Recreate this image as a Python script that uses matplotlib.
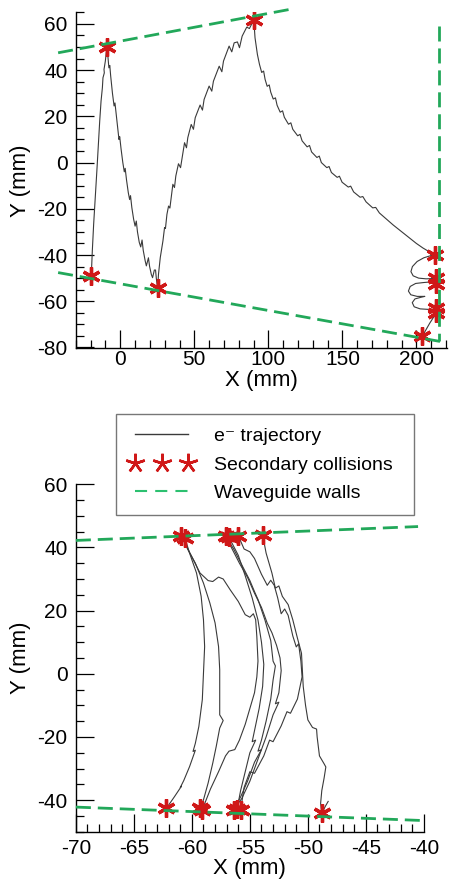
import matplotlib
matplotlib.use("Agg")
import matplotlib.pyplot as plt
from matplotlib.lines import Line2D
from matplotlib.ticker import MultipleLocator

plt.rcParams['font.family'] = ['Liberation Sans', 'DejaVu Sans']
plt.rcParams['axes.unicode_minus'] = False

# ---- top panel: one long trajectory (mm), read piece by piece ----
segA_x = [-19.6, -18.9, -18.0, -16.9, -15.7, -14.8, -13.9, -13.0, -12.1, -11.7, -10.8, -11.0, -10.1, -9.4, -9.0]
segA_y = [-49.0, -38.2, -26.7, -15.2, -2.2, 7.9, 18.0, 26.6, 32.4, 36.7, 38.8, 40.3, 43.9, 48.2, 50.4]

segB_x = [-8.3, -7.7, -7.1, -6.5, -5.3, -4.2, -3.6, -2.8, -1.7, -0.9, -0.4, 0.5, 1.7, 2.7, 3.3, 4.2, 5.4, 6.3,
          6.9, 7.8, 9.0, 10.0, 10.8, 11.6, 12.8, 13.8, 14.7, 15.5, 16.8, 17.6, 19.0, 19.8, 21.0, 21.8, 23.0,
          23.8, 24.4, 25.2]
segB_y = [45.5, 41.0, 42.0, 37.5, 30.0, 24.5, 25.8, 21.0, 14.0, 10.0, 11.2, 6.0, 0.0, -4.0, -2.5, -7.5, -13.0,
          -16.0, -14.3, -19.5, -24.5, -27.5, -25.3, -30.0, -34.5, -36.5, -33.5, -38.0, -42.5, -44.7, -41.2,
          -45.0, -48.5, -49.8, -46.5, -46.5, -50.5, -54.3]

segC_x = [25.8, 27.0, 28.8, 29.9, 30.5, 31.5, 32.6, 33.5, 34.4, 35.5, 36.6, 37.5, 39.3, 40.7, 41.8, 43.4, 44.7,
          45.6, 47.9, 49.4, 50.6, 53.9, 55.5, 56.6, 60.0, 61.8, 62.9, 66.8, 68.6, 69.7, 73.5, 75.3, 76.9, 79.1,
          80.5, 82.3, 85.4, 87.2, 88.8, 90.2]
segC_y = [-48.3, -41.1, -33.9, -28.1, -28.5, -22.4, -18.8, -19.7, -15.2, -9.4, -10.8, -5.8, -0.5, -2.2, 2.1,
          8.6, 6.4, 10.8, 16.5, 14.4, 19.4, 24.9, 22.7, 27.3, 33.1, 30.9, 35.2, 41.7, 39.3, 43.9, 50.4, 47.9,
          51.8, 52.2, 49.7, 54.7, 58.6, 58.0, 60.0, 61.5]

segD_x = [91.0, 92.6, 94.0, 95.5, 96.8, 97.8, 99.2, 100.6, 101.6, 103.3, 104.8, 105.9, 108.0, 109.6, 110.8,
          113.6, 115.2, 116.5, 119.8, 121.4, 122.8, 126.2, 127.8, 129.2, 132.8, 134.4, 135.8, 139.5, 141.0,
          142.6, 146.5, 148.0, 149.8, 154.0, 155.6, 157.6, 162.0, 163.8, 166.0, 170.5, 172.5, 175.0, 180.0,
          184.3, 189.0, 194.5, 200.0, 204.5, 212.4]
segD_y = [54.0, 46.8, 42.5, 39.0, 39.6, 36.0, 33.0, 33.6, 30.5, 27.5, 28.0, 24.8, 21.8, 22.4, 19.6, 16.6, 17.2,
          14.4, 11.6, 12.2, 9.4, 6.8, 7.4, 4.6, 2.2, 2.8, 0.0, -2.2, -1.7, -4.3, -6.4, -5.9, -8.5, -10.6, -10.2,
          -12.7, -15.0, -14.7, -17.0, -19.6, -19.4, -21.8, -24.6, -27.0, -29.4, -32.2, -35.0, -37.0, -40.0]

# coils next to the end wall
segE_x = [209.5, 205.0, 200.5, 197.3, 196.3, 197.8, 201.5, 206.5, 211.0, 213.5, 210.5, 205.0, 199.5, 195.8,
          194.6, 196.2, 200.5, 205.7, 203.0, 199.0, 197.2, 198.5, 202.5, 207.5, 212.4, 213.5, 211.5, 209.0,
          206.8, 204.1]
segE_y = [-40.3, -41.2, -42.8, -45.0, -47.2, -49.0, -50.0, -50.3, -50.2, -50.8, -51.6, -51.9, -52.3, -53.6,
          -55.6, -57.2, -57.9, -57.9, -58.3, -59.0, -60.6, -62.4, -63.3, -63.5, -63.6, -64.9, -67.0, -69.5,
          -72.0, -75.0]

hits1_x = [-9.0, 90.4, -19.8, 25.4, 212.4, 213.5, 213.5, 213.5, 213.5, 204.0]
hits1_y = [50.0, 61.5, -49.0, -54.3, -40.0, -49.8, -52.6, -63.0, -64.9, -75.0]

wall1_top_x, wall1_top_y = [-42.0, 118.0], [47.5, 66.7]
wall1_bot_x, wall1_bot_y = [-42.0, 216.0], [-47.6, -77.4]
wall1_side_x, wall1_side_y = [215.3, 215.3], [59.0, -77.4]

# ---- bottom panel: several short trajectories (mm) ----
ca_x = [-60.6, -60.2, -59.6, -59.2, -59.0, -58.9, -59.0, -59.1, -59.4, -59.7, -59.9, -59.7, -60.2, -60.7, -61.0, -60.9, -61.5, -62.2]
ca_y = [43.0, 38.2, 31.9, 24.5, 17.1, 8.6, 0.2, -8.2, -16.7, -22.0, -24.6, -24.2, -29.4, -33.8, -36.0, -35.6, -38.9, -42.6]
cb_x = [-60.9, -60.3, -59.7, -59.0, -58.45, -58.0, -57.7, -57.6, -57.6, -57.6, -57.3, -57.6, -57.9, -58.2, -58.6, -59.0, -59.3]
cb_y = [43.5, 39.0, 35.0, 28.7, 22.4, 16.1, 8.6, 1.3, -6.1, -13.0, -14.8, -17.2, -23.0, -28.3, -34.6, -39.9, -42.6]
cc_x = [-60.9, -60.0, -59.3, -58.6, -58.2, -57.7, -57.3, -56.7, -56.0, -55.4, -55.0, -54.7, -54.5, -54.4, -54.3,
        -54.4, -54.6, -55.0, -55.4, -55.9, -56.3, -56.8, -57.1, -57.7, -58.4, -59.1]
cc_y = [43.5, 37.0, 31.9, 29.5, 29.2, 30.6, 30.0, 26.6, 22.9, 18.7, 17.9, 19.0, 17.1, 11.8, 4.0,
        -1.0, -6.0, -11.0, -16.0, -21.0, -24.0, -24.5, -26.0, -31.0, -36.5, -43.0]
cd_x = [-57.1, -56.4, -55.7, -55.0, -54.6, -54.3, -53.7, -53.2, -53.0, -52.8, -53.0, -53.2, -53.6, -54.0,
        -54.3, -54.0, -54.6, -55.2, -55.8, -56.4]
cd_y = [43.6, 39.5, 34.5, 29.5, 26.0, 23.5, 17.0, 10.5, 4.0, 2.5, -2.0, -8.0, -15.0, -21.0,
        -24.5, -24.0, -28.0, -34.0, -39.0, -43.0]
ce_x = [-56.8, -56.0, -55.4, -54.8, -54.3, -54.0, -53.8, -53.9, -54.2, -54.6, -54.8, -54.5, -55.0, -55.4, -55.8, -56.1]
ce_y = [43.2, 37.5, 31.0, 24.0, 17.0, 10.0, 3.0, -4.0, -11.0, -18.0, -21.5, -21.0, -25.0, -31.0, -37.0, -42.8]
cf_x = [-56.0, -55.5, -55.0, -54.6, -54.0, -53.5, -53.2, -52.9, -52.6, -52.3, -52.0, -51.7, -51.3, -51.0,
        -50.8, -50.6, -50.5, -50.9, -51.5, -51.8, -52.3, -53.0, -53.3, -53.8, -54.6, -55.0, -55.5, -55.8]
cf_y = [43.7, 39.5, 38.6, 36.5, 31.5, 28.0, 29.6, 28.0, 24.0, 19.0, 20.5, 18.5, 12.0, 8.5,
        9.5, 4.0, -1.0, -8.0, -12.5, -12.0, -16.5, -21.5, -21.0, -26.0, -31.5, -31.0, -36.0, -43.2]
cg_x = [-53.9, -53.6, -53.1, -52.8, -52.5, -52.2, -51.7, -51.3, -50.9, -50.55, -50.4, -50.2, -50.0, -49.6,
        -49.25, -49.2, -49.0, -48.6, -48.45, -48.6, -48.8, -48.9, -48.8, -48.5, -48.25]
cg_y = [44.0, 38.2, 31.9, 27.1, 27.8, 24.5, 21.9, 17.1, 11.3, 6.5, -4.0, -10.0, -14.6, -17.0,
        -17.5, -20.0, -26.0, -28.5, -29.5, -33.0, -37.0, -41.0, -44.2, -42.0, -40.4]
ci_x = [-57.1, -56.6, -55.9, -55.2, -54.6, -54.0, -53.5, -53.1, -52.7, -52.4, -52.3, -52.5, -52.8, -52.5,
        -53.0, -53.6, -54.3, -55.0, -55.7, -56.4]
ci_y = [43.6, 40.0, 35.0, 30.5, 25.5, 21.0, 16.0, 13.0, 9.0, 5.0, 1.0, -6.0, -9.5, -9.0,
        -13.0, -20.0, -27.0, -34.0, -39.5, -43.0]

hits2_x = [-60.9, -60.6, -57.1, -56.8, -56.0, -53.9, -62.2, -59.3, -59.1, -56.4, -55.8, -56.1, -48.8]
hits2_y = [43.5, 43.0, 43.6, 43.2, 43.7, 44.0, -42.6, -42.6, -43.0, -43.0, -43.2, -42.8, -44.2]

wall2_top_x, wall2_top_y = [-70.0, -40.5], [42.2, 46.6]
wall2_bot_x, wall2_bot_y = [-70.0, -39.8], [-42.2, -46.5]

line_col = '#3a3a3a'
star_col = '#d01818'
wall_col = '#22a85a'
star_mk = (6, 2, 0)


def style(ax):
    for s in ['top', 'right']:
        ax.spines[s].set_visible(False)
    for s in ['left', 'bottom']:
        ax.spines[s].set_linewidth(1.0)
    ax.tick_params(which='both', direction='in', labelsize=15, width=0.9)
    ax.tick_params(which='major', length=13)
    ax.tick_params(which='minor', length=6)


def wall(ax, x, y):
    ax.plot(x, y, color=wall_col, lw=2.0, dashes=(5.4, 2.5), zorder=4, clip_on=False)


fig = plt.figure(figsize=(4.49, 8.82), dpi=100)

# top panel
traj1_x = segA_x + segB_x + segC_x + segD_x + segE_x
traj1_y = segA_y + segB_y + segC_y + segD_y + segE_y
ax1 = fig.add_axes([0.169, 0.605, 0.826, 0.381])
ax1.plot(traj1_x, traj1_y, color=line_col, lw=0.8, zorder=2)
ax1.plot(hits1_x, hits1_y, ls='none', marker=star_mk, ms=13, mew=2.4, color=star_col, zorder=3)
wall(ax1, wall1_top_x, wall1_top_y)
wall(ax1, wall1_bot_x, wall1_bot_y)
wall(ax1, wall1_side_x, wall1_side_y)
ax1.set_xlim(-30, 220.5)
ax1.set_ylim(-80.4, 65)
ax1.xaxis.set_major_locator(MultipleLocator(50))
ax1.xaxis.set_minor_locator(MultipleLocator(10))
ax1.yaxis.set_major_locator(MultipleLocator(20))
ax1.yaxis.set_minor_locator(MultipleLocator(5))
style(ax1)
ax1.tick_params(axis='x', pad=1)
ax1.tick_params(axis='y', pad=6)
ax1.set_xlabel('X (mm)', fontsize=16, labelpad=1)
ax1.set_ylabel('Y (mm)', fontsize=16)
ax1.yaxis.set_label_coords(-0.12, 0.5)

# bottom panel
ax2 = fig.add_axes([0.169, 0.057, 0.775, 0.394])
for cx, cy in [(ca_x, ca_y), (cb_x, cb_y), (cc_x, cc_y), (cd_x, cd_y), (ce_x, ce_y),
               (cf_x, cf_y), (cg_x, cg_y), (ci_x, ci_y)]:
    ax2.plot(cx, cy, color=line_col, lw=0.8, zorder=2)
ax2.plot(hits2_x, hits2_y, ls='none', marker=star_mk, ms=13, mew=2.4, color=star_col, zorder=3)
wall(ax2, wall2_top_x, wall2_top_y)
wall(ax2, wall2_bot_x, wall2_bot_y)
ax2.set_xlim(-70, -40)
ax2.set_ylim(-50, 60)
ax2.xaxis.set_major_locator(MultipleLocator(5))
ax2.xaxis.set_minor_locator(MultipleLocator(1))
ax2.yaxis.set_major_locator(MultipleLocator(20))
ax2.yaxis.set_minor_locator(MultipleLocator(5))
style(ax2)
ax2.tick_params(axis='x', pad=5)
ax2.tick_params(axis='y', pad=6)
ax2.set_xlabel('X (mm)', fontsize=16, labelpad=0)
ax2.set_ylabel('Y (mm)', fontsize=16)
ax2.yaxis.set_label_coords(-0.128, 0.5)

# legend between the panels
handles = [
    Line2D([], [], color=line_col, lw=1.0),
    Line2D([], [], ls='none', marker=(5, 2, 0), ms=14, mew=1.8, color=star_col),
    Line2D([], [], color='#2cc070', lw=1.5, dashes=(5.8, 3.9)),
]
labels = ['e\u207b trajectory', 'Secondary collisions', 'Waveguide walls']
leg = fig.legend(handles, labels, loc='upper left', bbox_to_anchor=(0.258, 0.415, 0.664, 0.1156),
                 mode='expand', fontsize=14, numpoints=3, handlelength=3.35, handletextpad=1.0,
                 labelspacing=0.57, borderpad=0.68, fancybox=False, frameon=True, borderaxespad=0)
leg.get_frame().set_edgecolor('#555555')
leg.get_frame().set_linewidth(1.0)

fig.savefig('out.png', dpi=100)
